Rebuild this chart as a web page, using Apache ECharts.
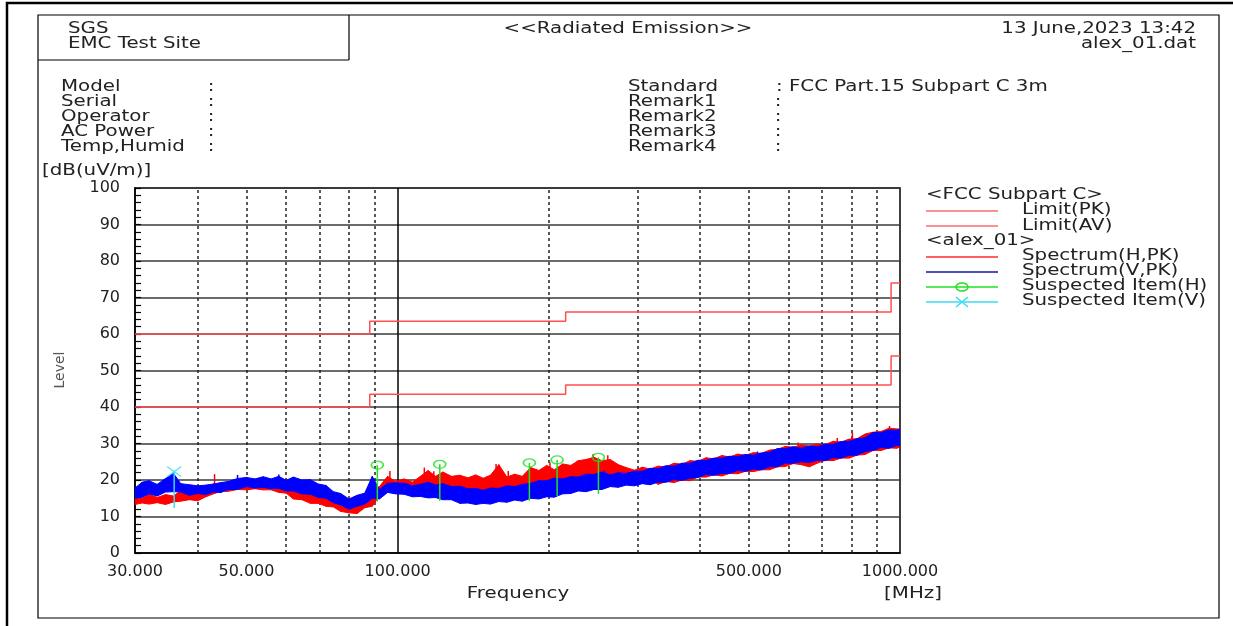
<!DOCTYPE html>
<html>
<head>
<meta charset="utf-8">
<title>Radiated Emission</title>
<script src="https://cdn.jsdelivr.net/npm/echarts@6/dist/echarts.min.js"></script>
<style>
  html, body { margin: 0; padding: 0; background: #fff; }
  #chart { width: 1233px; height: 626px; }
</style>
</head>
<body>
<div id="chart"></div>
<script>
// frequency grid (MHz) of the read-off spectrum samples
const freqs = [30, 31, 32, 33.2, 34.5, 35.8, 37, 38.5, 40, 41.5, 43, 44.5, 46, 48, 50, 52, 54, 56, 58, 60,
  62, 64.5, 67, 69.5, 72, 74.5, 77, 80, 83, 86, 89, 92, 95.5, 99, 103, 107, 111, 115, 119, 123,
  128, 133, 138, 143, 148, 153, 159, 165, 171, 177, 184, 191, 198, 205, 213, 221, 229, 237, 246, 255,
  265, 275, 285, 296, 307, 318, 330, 342, 355, 368, 382, 396, 411, 426, 442, 458, 475, 493, 511, 530,
  550, 570, 591, 613, 636, 660, 684, 710, 736, 763, 792, 821, 852, 884, 917, 951, 986, 1000]

// Spectrum(H,PK) band: top / bottom of the trace
const hHi = [15.9, 15.0, 16.1, 15.2, 16.0, 15.6, 17.1, 16.2, 17.2, 16.9,
  19.0, 18.2, 19.3, 18.7, 19.8, 19.1, 19.7, 19.0, 19.3, 18.2,
  17.9, 16.7, 16.9, 15.7, 16.1, 14.7, 15.0, 13.8, 14.6, 15.3,
  16.9, 18.2, 21.0, 19.6, 20.3, 19.4, 21.0, 22.6, 21.0, 22.2,
  21.0, 21.3, 20.6, 21.4, 20.5, 21.3, 24.2, 20.8, 21.6, 21.0,
  23.4, 22.6, 24.0, 22.8, 24.4, 24.0, 25.3, 25.6, 26.2, 25.3,
  25.6, 24.2, 23.4, 22.7, 23.5, 23.0, 23.8, 23.6, 24.6, 24.3,
  25.3, 25.1, 26.1, 25.8, 26.7, 26.3, 27.1, 26.8, 27.5, 27.3,
  28.2, 28.4, 29.2, 29.0, 29.6, 29.3, 29.8, 29.7, 30.6, 30.4,
  31.2, 31.3, 32.6, 33.1, 33.3, 34.2, 34.0, 34.0]
const hLo = [13.3, 13.7, 13.4, 13.8, 13.3, 14.0, 14.2, 14.6, 14.3, 15.4,
  16.2, 16.9, 16.9, 17.4, 17.3, 17.6, 17.3, 17.3, 16.6, 16.4,
  14.8, 14.6, 13.6, 13.6, 12.8, 12.6, 11.4, 11.0, 10.8, 12.4,
  12.8, 15.6, 17.6, 18.6, 18.2, 18.2, 18.0, 19.2, 18.4, 18.2,
  17.4, 17.4, 16.8, 17.0, 16.4, 17.0, 17.0, 17.8, 18.0, 18.7,
  19.0, 19.8, 19.6, 20.2, 20.0, 20.6, 20.6, 21.4, 21.0, 21.4,
  20.8, 21.0, 20.0, 20.2, 19.8, 20.4, 18.8, 19.6, 19.3, 20.0,
  19.8, 20.8, 20.8, 21.4, 21.1, 21.8, 21.7, 22.4, 22.3, 22.8,
  22.8, 23.6, 23.7, 24.5, 24.2, 23.6, 24.6, 25.4, 25.3, 26.0,
  26.0, 26.8, 27.0, 28.1, 28.1, 28.8, 28.7, 29.1]

// Spectrum(V,PK) band: top / bottom of the trace
const vHi = [17.8, 19.4, 19.8, 18.8, 20.4, 21.8, 19.0, 18.7, 18.4, 18.6,
  18.9, 19.3, 19.6, 20.4, 20.7, 20.3, 20.9, 20.3, 21.0, 19.9,
  20.8, 20.0, 20.1, 18.9, 18.5, 16.8, 16.3, 14.8, 15.8, 16.4,
  21.0, 17.4, 19.1, 19.2, 19.1, 18.4, 18.8, 19.4, 18.6, 19.0,
  18.2, 18.3, 17.6, 17.7, 17.2, 17.8, 17.7, 18.4, 18.2, 18.8,
  19.1, 19.8, 19.8, 20.5, 20.3, 20.9, 20.8, 21.6, 21.5, 22.2,
  21.4, 22.0, 21.8, 22.4, 22.4, 23.2, 23.1, 23.9, 23.8, 24.6,
  24.6, 25.4, 25.4, 26.0, 26.0, 26.5, 26.4, 27.0, 26.8, 27.4,
  27.6, 28.6, 28.6, 29.1, 28.7, 29.3, 29.1, 29.8, 29.8, 30.5,
  30.6, 31.3, 31.6, 33.0, 33.0, 33.7, 33.6, 34.0]
const vLo = [15.0, 15.3, 16.2, 15.6, 16.7, 16.8, 16.7, 15.8, 16.3, 16.0,
  16.7, 16.6, 17.4, 17.4, 18.2, 17.8, 18.0, 17.6, 17.7, 17.0,
  17.0, 16.2, 16.1, 15.2, 15.0, 13.8, 13.2, 12.0, 12.8, 13.4,
  15.0, 14.8, 16.6, 16.2, 16.1, 15.4, 15.5, 15.1, 15.2, 14.6,
  14.6, 13.6, 13.7, 13.3, 13.6, 13.4, 14.1, 13.9, 14.5, 14.2,
  15.0, 14.8, 15.4, 15.3, 16.2, 16.3, 17.0, 16.8, 17.4, 17.4,
  18.2, 18.0, 18.6, 18.4, 19.0, 18.7, 19.4, 19.4, 20.1, 19.9,
  20.5, 20.7, 21.5, 21.3, 21.8, 21.8, 22.6, 22.4, 23.0, 22.8,
  23.6, 23.6, 24.6, 24.6, 25.0, 24.8, 25.4, 25.3, 26.1, 26.0,
  26.8, 26.8, 27.8, 28.1, 28.9, 28.7, 29.5, 29.3]

// single spikes sticking out of the traces
const hSpikeFreq = [43.2, 96.5, 113, 118, 157, 166, 201, 228, 245, 262, 627, 750, 804, 953]
const hSpikeTop = [21.6, 22.5, 23.4, 22.4, 24.4, 22.5, 24.8, 25.3, 27.1, 26.8, 30.3, 31.5, 33.0, 34.8]
const hSpikeBase = [17.0, 18.5, 19.0, 19.0, 18.0, 18.5, 20.0, 21.0, 21.5, 21.5, 26.0, 27.0, 28.0, 29.5]
const vSpikeFreq = [48, 58, 258, 520]
const vSpikeTop = [21.4, 21.5, 22.6, 27.8]
const vSpikeBase = [17.8, 17.8, 18.0, 23.5]

// FCC Subpart C limits
const limitFreq = [30, 88, 216, 960, 1000]
const limitPK = [60, 63.5, 66, 74, 74]
const limitAV = [40, 43.5, 46, 54, 54]

// suspected items
const suspHFreq = [91.1, 121.3, 182.9, 207.7, 251.0]
const suspHTop = [24.1, 24.3, 24.7, 25.5, 26.2]
const suspHBase = [14.1, 14.3, 14.3, 15.6, 16.2]
const suspVFreq = [35.9]
const suspVTop = [22.3]
const suspVBase = [12.3]

// axis marks
const xLabelValues = [30, 50, 100, 500, 1000]
const dottedFreqs = [40, 50, 60, 70, 80, 90, 200, 300, 400, 500, 600, 700, 800, 900]

const FONT = 'DejaVu Sans'
const TXT = '#222'
const SX = 1.32
const RED = '#ff0000'
const BLUE = '#0000ff'
const LIMIT = '#ff4f4f'
const GREEN = '#22e022'
const CYAN = '#3adcf0'

function txt(x, y, s, align, extra) {
  return Object.assign({
    type: 'text', x: x, y: y, scaleX: SX, silent: true,
    style: { text: s, x: 0, y: 0, align: align || 'left', verticalAlign: 'middle',
      fontFamily: FONT, fontSize: 15, fill: TXT }
  }, extra || {})
}
function ln(x1, y1, x2, y2, color, w) {
  return { type: 'line', silent: true, shape: { x1, y1, x2, y2 },
    style: { stroke: color, lineWidth: w || 1.5 } }
}

function bandSeries(name, hi, lo, color) {
  return {
    type: 'custom',
    name: name,
    z: 3,
    clip: true,
    data: freqs.map((f, i) => [f, hi[i], lo[i]]),
    encode: { x: 0, y: [1, 2] },
    renderItem: function(params, api) {
      const i = params.dataIndex
      if (i >= freqs.length - 1) return { type: 'group', children: [] }
      const a = api.coord([freqs[i], hi[i]])
      const b = api.coord([freqs[i + 1], hi[i + 1]])
      const c = api.coord([freqs[i + 1], lo[i + 1]])
      const d = api.coord([freqs[i], lo[i]])
      return {
        type: 'polygon',
        shape: { points: [a, b, c, d] },
        style: { fill: color, stroke: color, lineWidth: 1 }
      }
    }
  }
}

function stemSeries(name, fr, top, base, color, z) {
  return {
    type: 'custom',
    name: name,
    z: z || 5,
    clip: true,
    data: fr.map((f, i) => [f, top[i], base[i]]),
    encode: { x: 0, y: [1, 2] },
    renderItem: function(params, api) {
      const p1 = api.coord([api.value(0), api.value(1)])
      const p2 = api.coord([api.value(0), api.value(2)])
      return {
        type: 'line',
        shape: { x1: p1[0], y1: p1[1], x2: p2[0], y2: p2[1] },
        style: { stroke: color, lineWidth: 1.5 }
      }
    }
  }
}

const chart = echarts.init(document.getElementById('chart'), null, { renderer: 'canvas' })

const legendX1 = 926
const legendX2 = 998
const legendTx = 1022

chart.setOption({
  animation: false,
  backgroundColor: '#fff',
  grid: {
    left: 135, top: 188, width: 765, height: 365,
    show: true, borderColor: '#000', borderWidth: 1.5, backgroundColor: 'transparent'
  },
  xAxis: {
    type: 'log',
    logBase: 10,
    min: 30,
    max: 1000,
    axisLine: { show: true, lineStyle: { color: '#000', width: 1.5 } },
    axisTick: { show: false },
    splitLine: { show: false },
    minorTick: { show: false },
    axisLabel: {
      customValues: xLabelValues,
      formatter: v => Number(v).toFixed(3),
      fontFamily: FONT, fontSize: 16, color: TXT, margin: 11
    }
  },
  yAxis: {
    type: 'value',
    min: 0,
    max: 100,
    interval: 10,
    axisLine: { show: true, lineStyle: { color: '#000', width: 1.5 } },
    axisTick: { show: true, inside: true, length: 6, lineStyle: { color: '#000', width: 1.2 } },
    minorTick: { show: true, splitNumber: 5, length: 6, lineStyle: { color: '#000', width: 1.2 } },
    splitLine: { show: true, lineStyle: { color: '#3a3a3a', width: 1.5 } },
    axisLabel: { fontFamily: FONT, fontSize: 16, color: TXT, margin: 15 }
  },
  series: [
    bandSeries('Spectrum(H,PK)', hHi, hLo, RED),
    stemSeries('Spectrum(H,PK) spikes', hSpikeFreq, hSpikeTop, hSpikeBase, RED, 3),
    bandSeries('Spectrum(V,PK)', vHi, vLo, BLUE),
    stemSeries('Spectrum(V,PK) spikes', vSpikeFreq, vSpikeTop, vSpikeBase, BLUE, 3),
    {
      name: 'Limit(PK)',
      type: 'line',
      step: 'end',
      symbol: 'none',
      z: 4,
      data: limitFreq.map((f, i) => [f, limitPK[i]]),
      lineStyle: { color: LIMIT, width: 1.5 },
      markLine: {
        silent: true,
        symbol: 'none',
        label: { show: false },
        z: 1,
        data: dottedFreqs.map(f => ({ xAxis: f, lineStyle: { color: '#222', type: [3, 3], width: 1.5 } }))
          .concat([{ xAxis: 100, lineStyle: { color: '#000', type: 'solid', width: 1.5 } }])
      }
    },
    {
      name: 'Limit(AV)',
      type: 'line',
      step: 'end',
      symbol: 'none',
      z: 4,
      data: limitFreq.map((f, i) => [f, limitAV[i]]),
      lineStyle: { color: LIMIT, width: 1.5 }
    },
    stemSeries('Suspected Item(H) stem', suspHFreq, suspHTop, suspHBase, GREEN),
    stemSeries('Suspected Item(V) stem', suspVFreq, suspVTop, suspVBase, CYAN),
    {
      name: 'Suspected Item(H)',
      type: 'scatter',
      z: 6,
      symbol: 'circle',
      symbolSize: [12, 8],
      data: suspHFreq.map((f, i) => [f, suspHTop[i]]),
      itemStyle: { color: 'rgba(0,0,0,0)', borderColor: GREEN, borderWidth: 1.5 }
    },
    {
      name: 'Suspected Item(V)',
      type: 'scatter',
      z: 6,
      symbol: 'path://M0,0L10,10M10,0L0,10',
      symbolSize: [14, 10],
      data: suspVFreq.map((f, i) => [f, suspVTop[i]]),
      itemStyle: { color: 'rgba(0,0,0,0)', borderColor: CYAN, borderWidth: 1.5 }
    }
  ],
  graphic: [
    // frames
    { type: 'polyline', silent: true, shape: { points: [[7, 640], [7, 3], [1240, 3]] },
      style: { stroke: '#000', lineWidth: 2.5, fill: null } },
    { type: 'rect', silent: true, shape: { x: 38, y: 15, width: 1181, height: 603 },
      style: { stroke: '#000', lineWidth: 1.2, fill: null } },
    ln(38, 60, 349, 60, '#000', 1.2),
    ln(349, 15, 349, 60, '#000', 1.2),
    // header
    txt(68, 29, 'SGS'),
    txt(68, 44, 'EMC Test Site'),
    txt(628, 29, '<<Radiated Emission>>', 'center'),
    txt(1196, 29, '13 June,2023 13:42', 'right'),
    txt(1196, 44, 'alex_01.dat', 'right'),
    txt(61, 87, 'Model'), txt(61, 102, 'Serial'), txt(61, 117, 'Operator'),
    txt(61, 132, 'AC Power'), txt(61, 147, 'Temp,Humid'),
    txt(211, 87, ':', 'center'), txt(211, 102, ':', 'center'), txt(211, 117, ':', 'center'),
    txt(211, 132, ':', 'center'), txt(211, 147, ':', 'center'),
    txt(628, 87, 'Standard'), txt(628, 102, 'Remark1'), txt(628, 117, 'Remark2'),
    txt(628, 132, 'Remark3'), txt(628, 147, 'Remark4'),
    txt(776, 87, ': FCC Part.15 Subpart C 3m'),
    txt(778, 102, ':', 'center'), txt(778, 117, ':', 'center'),
    txt(778, 132, ':', 'center'), txt(778, 147, ':', 'center'),
    txt(42, 171, '[dB(uV/m)]'),
    // axis titles
    txt(518, 594, 'Frequency', 'center'),
    txt(913, 594, '[MHz]', 'center'),
    { type: 'text', x: 60, y: 370, rotation: Math.PI / 2, silent: true,
      style: { text: 'Level', x: 0, y: 0, align: 'center', verticalAlign: 'middle',
        fontFamily: FONT, fontSize: 14, fill: '#555' } },
    // legend
    txt(legendX1, 195, '<FCC Subpart C>'),
    ln(legendX1, 211, legendX2, 211, '#ff6b6b'),
    txt(legendTx, 210, 'Limit(PK)'),
    ln(legendX1, 226, legendX2, 226, '#ff6b6b'),
    txt(legendTx, 226, 'Limit(AV)'),
    txt(legendX1, 241, '<alex_01>'),
    ln(legendX1, 257, legendX2, 257, '#ff2a2a'),
    txt(legendTx, 256, 'Spectrum(H,PK)'),
    ln(legendX1, 272, legendX2, 272, '#1414a0'),
    txt(legendTx, 271, 'Spectrum(V,PK)'),
    ln(legendX1, 287, legendX2, 287, GREEN),
    { type: 'ellipse', silent: true, shape: { cx: 962, cy: 287, rx: 6, ry: 4 },
      style: { fill: null, stroke: GREEN, lineWidth: 1.5 } },
    txt(legendTx, 286, 'Suspected Item(H)'),
    ln(legendX1, 302, legendX2, 302, CYAN),
    ln(956, 297, 968, 307, CYAN), ln(956, 307, 968, 297, CYAN),
    txt(legendTx, 301, 'Suspected Item(V)')
  ]
})
</script>
</body>
</html>
